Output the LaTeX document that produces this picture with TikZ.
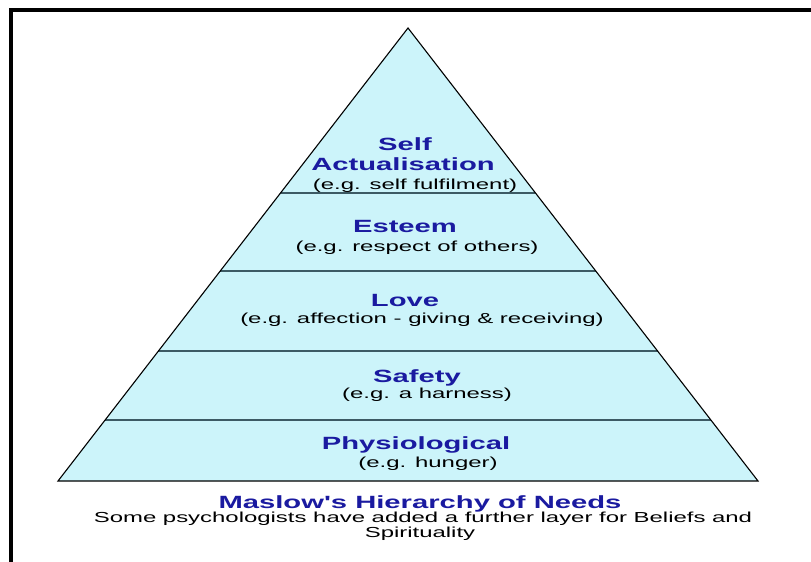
\documentclass[tikz,border=0pt]{standalone}
\usepackage{fontspec}
\usepackage{xcolor}
\usetikzlibrary{calc}
\newfontfamily\pyramidfont{Liberation Sans}[FakeStretch=1.65]
\definecolor{layercolore}{HTML}{CCF4FA}
\definecolor{titlecolore}{HTML}{1A1AA0}
\definecolor{rulecolore}{HTML}{3C5A64}
\colorlet{layercolor}{layercolore}
\colorlet{titlecolor}{titlecolore}
\colorlet{rulecolor}{rulecolore}
\tikzstyle{layertitle} = [
    anchor=base,
    inner sep=0pt,
    text=titlecolor,
    font={\pyramidfont\bfseries\fontsize{17.7}{19}\selectfont}
    ]
\tikzstyle{layernote} = [
    anchor=base,
    inner sep=0pt,
    text=black,
    font={\pyramidfont\fontsize{14.5}{16}\selectfont}
    ]
\tikzstyle{divider} = [
    draw=rulecolor,
    line width=1.8pt
    ]

\begin{document}
\begin{tikzpicture}[x=1pt,y=-1pt]
\useasboundingbox (0,0) rectangle (811,562);
\draw[line width=3.5pt] (11,562) -- (11,10) -- (811,10);

\coordinate (apex) at (408,28);
\coordinate (baseleft) at (58,481);
\coordinate (baseright) at (758,481);
\fill[layercolor] (apex) -- (baseleft) -- (baseright) -- cycle;
\foreach \t in {0.364,0.536,0.713,0.865}
    \draw[divider] ($(apex)!\t!(baseleft)$) -- ($(apex)!\t!(baseright)$);
\draw[line width=1.1pt] (apex) -- (baseleft) -- (baseright) -- cycle;

% layers, top to bottom
\node[layertitle] (self) at (405,150) {Self};
\node[layertitle] (actual) at (403,170) {Actualisation};
\node[layernote] (actualnote) at (415,189) {(e.g. self fulfilment)};
\node[layertitle] (esteem) at (405,232) {Esteem};
\node[layernote] (esteemnote) at (417,251) {(e.g. respect of others)};
\node[layertitle] (love) at (405,306) {Love};
\node[layernote] (lovenote) at (422,323) {(e.g. affection - giving \& receiving)};
\node[layertitle] (safety) at (417,382) {Safety};
\node[layernote] (safetynote) at (427,398) {(e.g. a harness)};
\node[layertitle] (physio) at (416,449) {Physiological};
\node[layernote] (physionote) at (428,467) {(e.g. hunger)};

\node[layertitle] (caption) at (420,508) {Maslow's Hierarchy of Needs};
\node[layernote] (captionnote) at (423,522) {Some psychologists have added a further layer for Beliefs and};
\node[layernote] (captionnotetwo) at (420,537) {Spirituality};
\end{tikzpicture}
\end{document}
